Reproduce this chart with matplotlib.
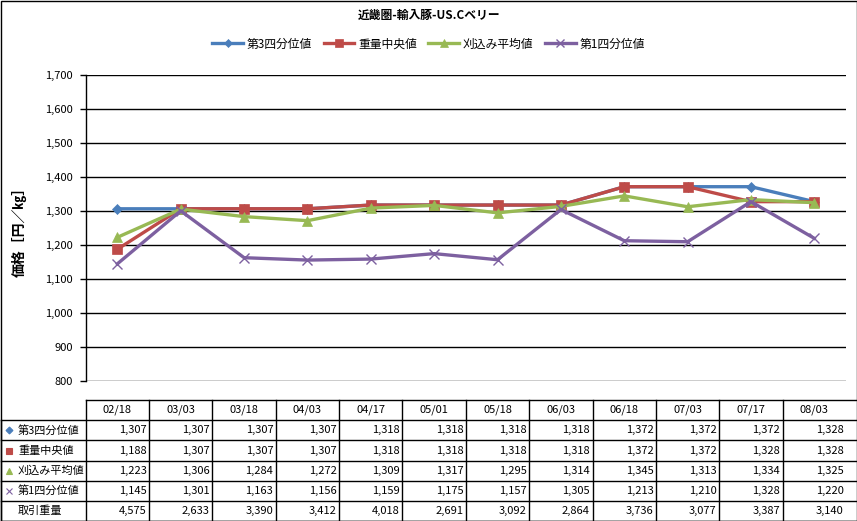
import matplotlib.pyplot as plt
from matplotlib.patches import Rectangle
from matplotlib.ticker import FuncFormatter, FixedLocator
from matplotlib.transforms import blended_transform_factory

plt.rcParams['font.family'] = ['Noto Sans CJK JP', 'DejaVu Sans']

# データ
dates = ['02/18', '03/03', '03/18', '04/03', '04/17', '05/01',
         '05/18', '06/03', '06/18', '07/03', '07/17', '08/03']
q3 = [1307, 1307, 1307, 1307, 1318, 1318, 1318, 1318, 1372, 1372, 1372, 1328]
median = [1188, 1307, 1307, 1307, 1318, 1318, 1318, 1318, 1372, 1372, 1328, 1328]
trim_mean = [1223, 1306, 1284, 1272, 1309, 1317, 1295, 1314, 1345, 1313, 1334, 1325]
q1 = [1145, 1301, 1163, 1156, 1159, 1175, 1157, 1305, 1213, 1210, 1328, 1220]
volume = [4575, 2633, 3390, 3412, 4018, 2691, 3092, 2864, 3736, 3077, 3387, 3140]

series_names = ['第3四分位値', '重量中央値', '刈込み平均値', '第1四分位値']
series_vals = [q3, median, trim_mean, q1]
colors = ['#4A7EBB', '#BE4B48', '#98B954', '#7D60A0']
markers = ['D', 's', '^', 'x']
msizes = [5, 7, 7, 7]

W, H = 857, 521
fig = plt.figure(figsize=(W / 100, H / 100), dpi=100)
ax_l, ax_r, ax_t, ax_b = 85.7, 846, 75.3, 381
ax = fig.add_axes([ax_l / W, 1 - ax_b / H, (ax_r - ax_l) / W, (ax_b - ax_t) / H])

x = list(range(len(dates)))
handles = []
for name, vals, c, m, ms in zip(series_names, series_vals, colors, markers, msizes):
    h, = ax.plot(x, vals, color=c, marker=m, markersize=ms, linewidth=2.4,
                 markeredgewidth=1.0 if m == 'x' else 0.5, markeredgecolor=c,
                 label=name, clip_on=False, zorder=3)
    handles.append(h)

ax.set_xlim(-0.5, len(dates) - 0.5)
ax.set_ylim(800, 1700)
ax.yaxis.set_major_locator(FixedLocator(range(800, 1701, 100)))
ax.yaxis.set_major_formatter(FuncFormatter(lambda v, p: f'{int(v):,}'))
ax.grid(axis='y', color='black', linewidth=1)
ax.set_axisbelow(True)
ax.set_xticks([])
for s in ['top', 'right', 'bottom']:
    ax.spines[s].set_visible(False)
ax.spines['left'].set_linewidth(1)
ax.tick_params(axis='y', length=4, width=1, labelsize=8, pad=5)
ax.yaxis.set_label_coords(-(ax_l - 19) / (ax_r - ax_l), 0.5)
ax.set_ylabel('価格［円／㎏］', fontsize=10, fontweight='bold', va='center')

fig.text(0.5, 1 - 15 / H, '近畿圏-輸入豚-US.Cベリー', ha='center', va='center',
         fontsize=8.5, fontweight='bold')
fig.legend(handles=handles, loc='center', bbox_to_anchor=(0.5, 1 - 44 / H),
           ncol=4, frameon=False, fontsize=8.5, handlelength=2.6, columnspacing=1.0,
           handletextpad=0.3, markerscale=0.75)

# データテーブル
trans = blended_transform_factory(ax.transData, fig.transFigure)
row_h = 20.2
top = 400
n_rows = 6
rows_y = [1 - (top + i * row_h) / H for i in range(n_rows + 1)]

line_kw = dict(color='black', linewidth=1, clip_on=False)
# 横線
for i, yy in enumerate(rows_y):
    x0 = 1 / W if i > 0 else ax_l / W
    fig.add_artist(plt.Line2D([x0, (W - 1) / W], [yy, yy], transform=fig.transFigure, **line_kw))
# 縦線
fig.add_artist(plt.Line2D([1 / W, 1 / W], [rows_y[1], rows_y[-1]],
                          transform=fig.transFigure, **line_kw))
for k in range(len(dates)):
    xx = k - 0.5
    ax.plot([xx, xx], [rows_y[0], rows_y[-1]], transform=trans, **line_kw)

fs = 8
for k, d in enumerate(dates):
    ax.text(k, (rows_y[0] + rows_y[1]) / 2, d, transform=trans, ha='center',
            va='center', fontsize=fs)

table_rows = series_vals + [volume]
row_labels = series_names + ['取引重量']
for r, (lab, vals) in enumerate(zip(row_labels, table_rows)):
    yc = (rows_y[r + 1] + rows_y[r + 2]) / 2
    if r < 4:
        fig.add_artist(plt.Line2D([9 / W], [yc], transform=fig.transFigure,
                                  marker=markers[r], color=colors[r],
                                  markersize=4 if markers[r] != 'D' else 3.5,
                                  markeredgewidth=0.8, linestyle='none'))
    fig.text(18 / W, yc, lab, ha='left', va='center', fontsize=fs)
    for k, v in enumerate(vals):
        ax.text(k + 0.46, yc, f'{v:,}', transform=trans, ha='right',
                va='center', fontsize=fs)

# 外枠
fig.add_artist(Rectangle((0.5 / W, 0.5 / H), (W - 1) / W, (H - 1) / H,
                         transform=fig.transFigure, fill=False,
                         edgecolor='black', linewidth=1))

fig.savefig('out.png', dpi=100)
